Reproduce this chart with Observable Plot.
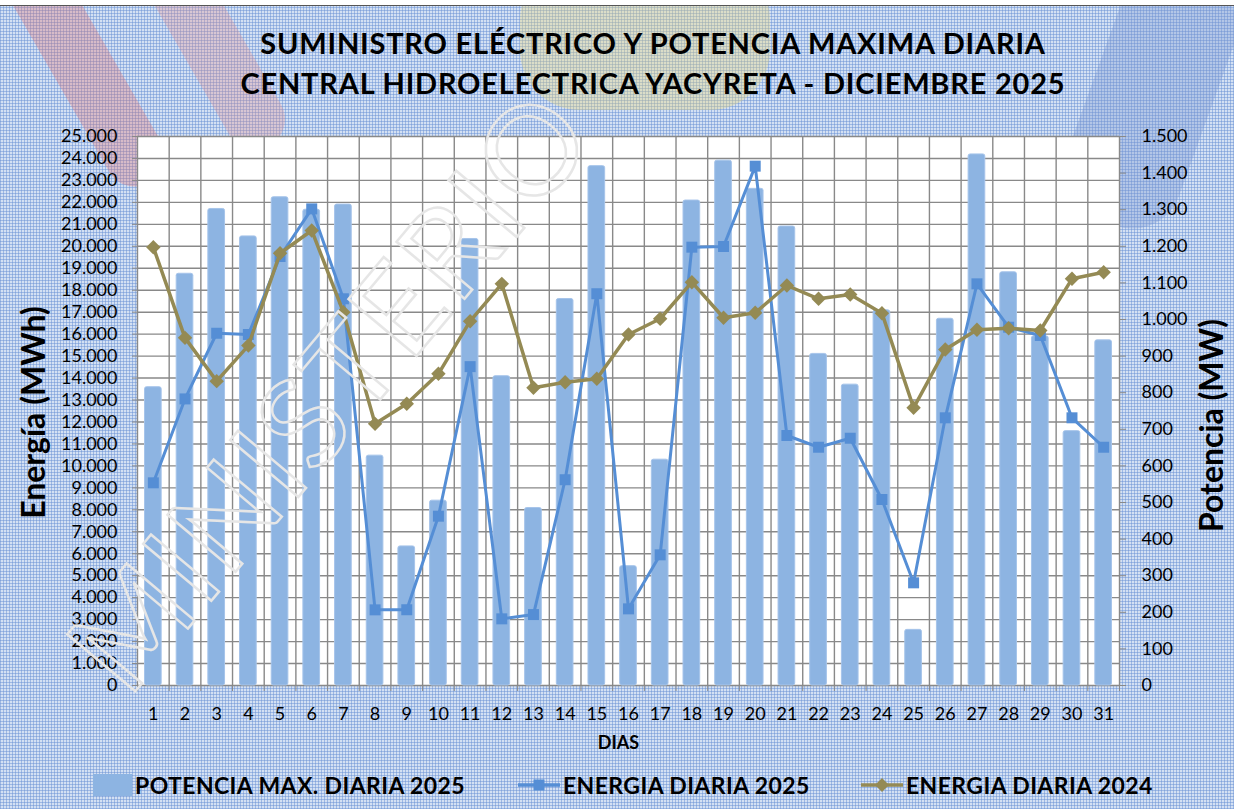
<!DOCTYPE html>
<html><head><meta charset="utf-8">
<script src="https://cdn.jsdelivr.net/npm/d3@7"></script>
<script src="https://cdn.jsdelivr.net/npm/@observablehq/plot@0.6"></script>
<style>
html,body{margin:0;padding:0;}
#wrap{position:relative;width:1234px;height:809px;overflow:hidden;
  background-color:#d3e0f3;
  background-image:
    repeating-linear-gradient(0deg, rgba(105,145,212,0.5) 0 1px, transparent 1px 3px),
    repeating-linear-gradient(90deg, rgba(105,145,212,0.5) 0 1px, transparent 1px 3px);
  font-family:Lato, "Open Sans", sans-serif;}
.blob{position:absolute;pointer-events:none;}
#topline{position:absolute;left:0;top:0;width:1234px;height:5px;background:#fff;border-bottom:1.5px solid #555;}
#title{position:relative;height:110px;box-sizing:border-box;padding-left:72px;text-align:center;font-weight:bold;font-size:29px;letter-spacing:0.8px;line-height:40px;color:#000;}
#title div:first-child{padding-top:23px;}
#chart{position:relative;}
#legend{position:absolute;left:0;top:760px;width:1234px;height:49px;font-weight:bold;font-size:23px;letter-spacing:0.4px;color:#000;}
.lg{position:absolute;top:0;height:49px;display:flex;align-items:center;white-space:nowrap;}
#wm{position:absolute;left:0;top:0;pointer-events:none;}
</style></head>
<body>
<div id="wrap">
  <div class="blob" style="left:55px;top:-60px;width:60px;height:260px;transform:rotate(-30deg);background:rgba(225,110,110,0.32);border-radius:30px;"></div>
  <div class="blob" style="left:185px;top:-60px;width:60px;height:220px;transform:rotate(-30deg);background:rgba(230,140,140,0.3);border-radius:30px;"></div>
  <div class="blob" style="left:520px;top:-40px;width:250px;height:150px;background:rgba(235,215,120,0.35);border-radius:60px;"></div>
  <div class="blob" style="left:1090px;top:-30px;width:120px;height:260px;background:rgba(120,150,210,0.35);border-radius:50px;transform:rotate(20deg);"></div>
  <div id="topline"></div>
  <div id="title"><div>SUMINISTRO ELÉCTRICO Y POTENCIA MAXIMA DIARIA</div><div>CENTRAL HIDROELECTRICA YACYRETA - DICIEMBRE 2025</div></div>
  <div id="chart"></div>
  <div id="legend"></div>
</div>
<script>
// ---- data ----
const dias = [1,2,3,4,5,6,7,8,9,10,11,12,13,14,15,16,17,18,19,20,21,22,23,24,25,26,27,28,29,30,31];
const potenciaMax2025 = [815,1125,1302,1227,1334,1300,1314,628,380,505,1220,845,485,1056,1419,326,617,1325,1434,1357,1254,906,822,1025,152,1002,1451,1129,954,695,943];
const energia2025 = [9230,13050,16040,15985,19535,21705,17610,3445,3450,7710,14520,3035,3230,9370,17840,3490,5950,19960,19990,23650,11385,10850,11260,8470,4675,12190,18290,16315,15940,12190,10850];
const energia2024 = [19960,15830,13860,15480,19685,20720,17000,11915,12830,14195,16590,18290,13555,13810,13965,15985,16700,18365,16745,16970,18215,17610,17805,16955,12645,15300,16200,16270,16165,18520,18820];
const energiaTicks = d3.range(0, 25001, 1000);
const potenciaTicks = d3.range(0, 1501, 100);
const seriesNames = ["POTENCIA MAX. DIARIA 2025", "ENERGIA DIARIA 2025", "ENERGIA DIARIA 2024"];
const colors = {bar:"#8db4e2", e25:"#558ed5", e24:"#948a54"};

const K = 25000 / 1500; // MW -> left-axis units
const fmt = v => d3.format(",")(v).replace(/,/g, ".");
const rows = dias.map((d,i) => ({dia:d, pot:potenciaMax2025[i], e25:energia2025[i], e24:energia2024[i]}));
const bounds = dias.map(d => d - 0.5).concat([dias[dias.length-1] + 0.5]);
const gridColor = "#898989";

const chart = Plot.plot({
  width: 1234, height: 650,
  marginTop: 26, marginBottom: 75, marginLeft: 137, marginRight: 115,
  style: {fontFamily: "Lato, 'Open Sans', sans-serif", fontSize: "18px", color: "#000", background: "transparent", overflow: "visible"},
  x: {domain: [0.5, 31.5], axis: null},
  y: {domain: [0, 25000], axis: null},
  marks: [
    Plot.frame({fill: "white", stroke: null}),
    Plot.ruleY(energiaTicks, {stroke: gridColor, strokeWidth: 1.4}),
    Plot.ruleX(bounds, {stroke: gridColor, strokeWidth: 1.4}),
    Plot.rectY(rows, {x1: d => d.dia - 0.5, x2: d => d.dia + 0.5, y: d => d.pot * K, insetLeft: 7.5, insetRight: 7.5, fill: colors.bar, stroke: "#a6c4ea", strokeWidth: 1, rx: 2}),
    Plot.line(rows, {x: "dia", y: "e25", stroke: colors.e25, strokeWidth: 3}),
    Plot.dot(rows, {x: "dia", y: "e25", symbol: "square", r: 6.2, fill: colors.e25, stroke: null}),
    Plot.line(rows, {x: "dia", y: "e24", stroke: colors.e24, strokeWidth: 3.5}),
    Plot.dot(rows, {x: "dia", y: "e24", symbol: "diamond2", r: 6.5, fill: colors.e24, stroke: null}),
    Plot.axisY(energiaTicks, {anchor: "left", tickSize: 5, tickPadding: 15, tickFormat: fmt, stroke: gridColor, label: null, fontSize: 18}),
    Plot.axisY(potenciaTicks.map(v => v * K), {anchor: "right", tickSize: 6, tickPadding: 16, tickFormat: v => fmt(Math.round(v / K)), stroke: gridColor, label: null, fontSize: 18}),
    Plot.axisX(dias, {anchor: "bottom", tickSize: 0, tickPadding: 22, tickFormat: d => String(d), label: null, fontSize: 18}),
    Plot.axisX(bounds, {anchor: "bottom", tickSize: 6, tickFormat: () => "", stroke: gridColor, label: null}),
    Plot.text(["Energía (MWh)"], {frameAnchor: "left", textAnchor: "middle", rotate: -90, dx: -103, dy: 1.5, fontSize: 32, fontWeight: "bold", fill: "#000", style: "letter-spacing:0.5px"}),
    Plot.text(["Potencia (MW)"], {frameAnchor: "right", textAnchor: "middle", rotate: -90, dx: 93, dy: 14.5, fontSize: 32, fontWeight: "bold", fill: "#000"}),
    Plot.text(["DIAS"], {frameAnchor: "bottom", dy: 63, dx: -10, fontSize: 18, fontWeight: "bold", fill: "#000"})
  ]
});
document.getElementById("chart").appendChild(chart);

// legend
const lg = document.getElementById("legend");
const items = [
  {name: seriesNames[0], left: 93, sw: `<svg width="39" height="22"><rect x="0" y="0" width="39" height="22" fill="${colors.bar}"/></svg>`},
  {name: seriesNames[1], left: 518, sw: `<svg width="42" height="20"><line x1="0" y1="10" x2="42" y2="10" stroke="${colors.e25}" stroke-width="3.5"/><rect x="15.5" y="4.5" width="11" height="11" fill="${colors.e25}"/></svg>`},
  {name: seriesNames[2], left: 861, sw: `<svg width="42" height="20"><line x1="0" y1="10" x2="42" y2="10" stroke="${colors.e24}" stroke-width="3.5"/><path d="M21 3 L28 10 L21 17 L14 10 Z" fill="${colors.e24}"/></svg>`}
];
for (const it of items) {
  const el = document.createElement("div");
  el.className = "lg";
  el.style.left = it.left + "px";
  el.innerHTML = it.sw + `<span style="margin-left:3px">${it.name}</span>`;
  lg.appendChild(el);
}

// watermark
const ns = "http://www.w3.org/2000/svg";
const wm = document.createElementNS(ns, "svg");
wm.setAttribute("id", "wm"); wm.setAttribute("width", 1234); wm.setAttribute("height", 809);
const t = document.createElementNS(ns, "text");
t.setAttribute("transform", "translate(128,700) rotate(-50)");
t.setAttribute("font-size", "124"); t.setAttribute("font-family", "Lato, sans-serif");
t.setAttribute("letter-spacing", "3");
t.setAttribute("fill", "none"); t.setAttribute("stroke", "#e6e6e6"); t.setAttribute("stroke-width", "2.5");
t.textContent = "MINISTERIO";
wm.appendChild(t);
document.getElementById("wrap").appendChild(wm);
</script>
</body></html>
